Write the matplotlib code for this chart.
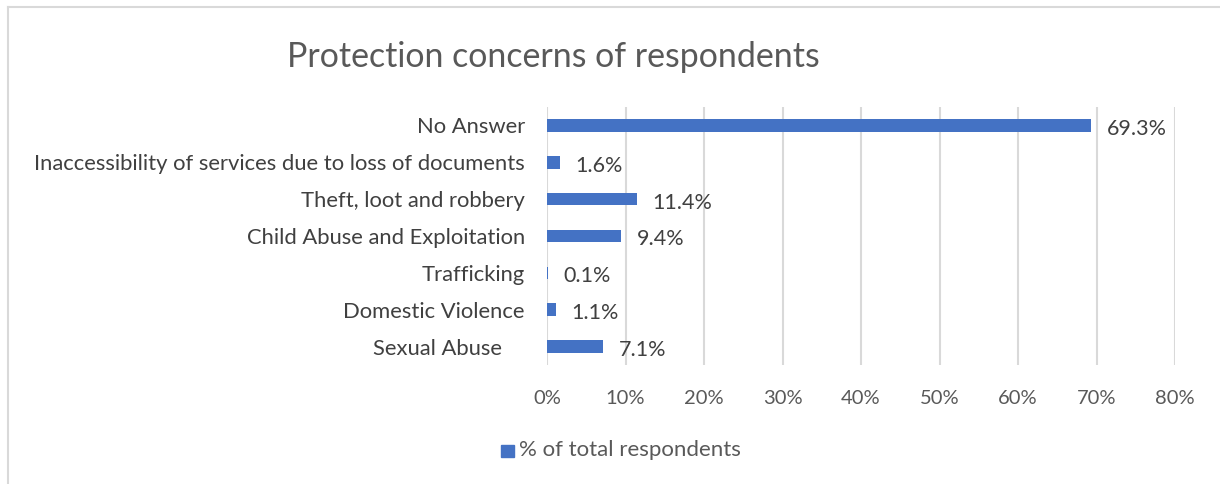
import matplotlib.pyplot as plt
from matplotlib.lines import Line2D

plt.rcParams['font.family'] = ['Lato', 'DejaVu Sans']

categories = [
    'Sexual Abuse    ',
    'Domestic Violence',
    'Trafficking',
    'Child Abuse and Exploitation',
    'Theft, loot and robbery',
    'Inaccessibility of services due to loss of documents',
    'No Answer',
]
values = [7.1, 1.1, 0.1, 9.4, 11.4, 1.6, 69.3]
ticks = [0, 10, 20, 30, 40, 50, 60, 70, 80]

bar_color = '#4472C4'
grid_color = '#d9d9d9'

fig = plt.figure(figsize=(12.2, 4.84), dpi=100)
ax = fig.add_axes([0.4484, 0.2459, 0.5148, 0.533])

y = range(len(categories))
ax.barh(y, values, height=0.34, color=bar_color, zorder=3)

for yi, v in zip(y, values):
    ax.annotate(f'{v:.1f}%', xy=(v, yi), xytext=(11.5, -2.5),
                textcoords='offset points', ha='left', va='center',
                fontsize=15.5, color='#404040', zorder=4)

ax.set_xlim(0, 80)
ax.set_ylim(-0.5, len(categories) - 0.5)
ax.set_xticks(ticks)
ax.set_xticklabels([f'{t}%' for t in ticks])
ax.set_yticks(list(y))
ax.set_yticklabels(categories)
ax.tick_params(axis='both', length=0, colors='#404040')
ax.tick_params(axis='x', pad=18, colors='#595959', labelsize=14.5)
ax.tick_params(axis='y', pad=16, labelsize=15.8)
ax.grid(axis='x', color=grid_color, linewidth=1.5, zorder=0)
for s in ax.spines.values():
    s.set_visible(False)

fig.text(553 / 1220, 1 - 57 / 484, 'Protection concerns of respondents', ha='center',
         va='center', fontsize=24.4, color='#595959')

# legend entry below the axis
fig.patches.append(plt.Rectangle((501 / 1220, 1 - 457 / 484), 13 / 1220, 12 / 484,
                                 transform=fig.transFigure, color=bar_color))
fig.text(519 / 1220, 1 - 450 / 484, '% of total respondents', ha='left',
         va='center', fontsize=16, color='#595959')

# outer chart border (cut off at right and bottom)
fig.add_artist(Line2D([8 / 1220, 8 / 1220], [0, 1 - 7 / 484],
                      transform=fig.transFigure, color=grid_color, linewidth=1.5))
fig.add_artist(Line2D([8 / 1220, 1], [1 - 7 / 484, 1 - 7 / 484],
                      transform=fig.transFigure, color=grid_color, linewidth=1.5))

fig.savefig('out.png', dpi=100)
